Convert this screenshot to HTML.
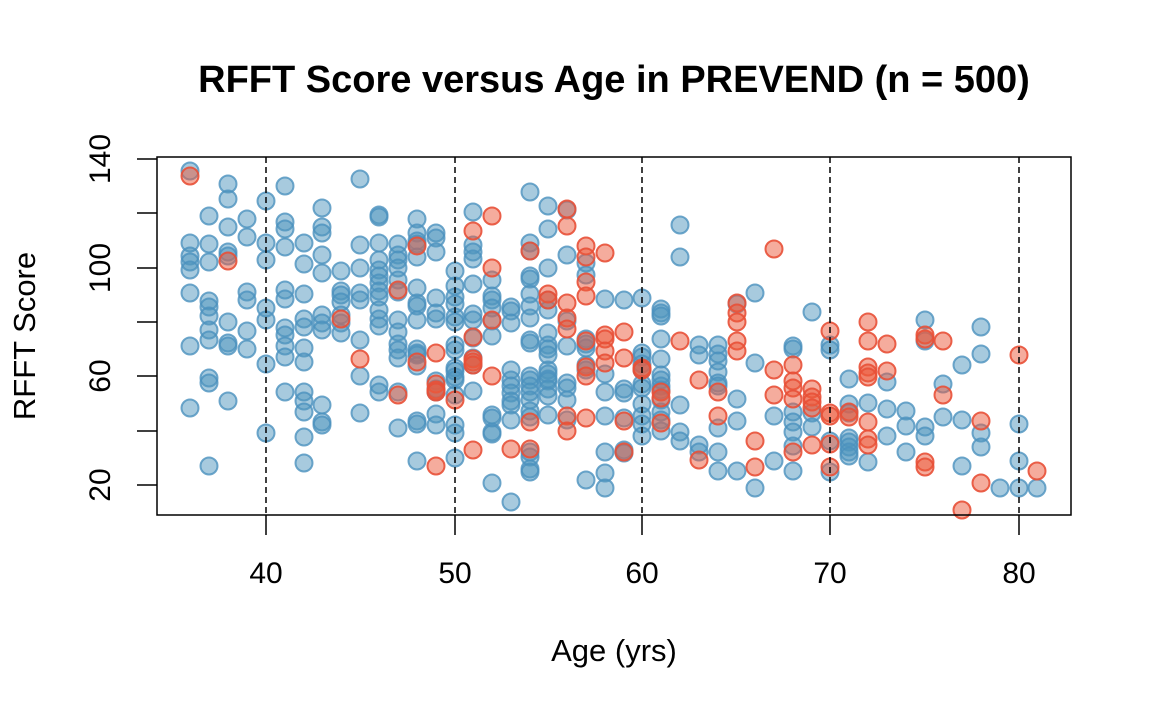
<!DOCTYPE html>
<html><head><meta charset="utf-8"><style>
html,body{margin:0;padding:0;background:#fff;}
svg{display:block;font-family:"Liberation Sans",sans-serif;}
</style></head><body>
<svg id="s" width="1152" height="711" viewBox="0 0 1152 711" xmlns="http://www.w3.org/2000/svg">
<rect width="1152" height="711" fill="#fff"/>
<text x="614" y="92" text-anchor="middle" font-size="38" font-weight="bold">RFFT Score versus Age in PREVEND (n = 500)</text>
<text x="614" y="661" text-anchor="middle" font-size="31">Age (yrs)</text>
<text transform="translate(35,336) rotate(-90)" text-anchor="middle" font-size="31">RFFT Score</text>
<g id="pts"></g>
<g stroke="#000" stroke-width="1.5" stroke-dasharray="6,4">
<line x1="266" y1="157" x2="266" y2="515"/><line x1="455" y1="157" x2="455" y2="515"/>
<line x1="642" y1="157" x2="642" y2="515"/><line x1="830" y1="157" x2="830" y2="515"/>
<line x1="1019" y1="157" x2="1019" y2="515"/>
</g>
<rect x="157" y="157" width="914" height="358" fill="none" stroke="#000" stroke-width="1.5"/>
<g stroke="#000" stroke-width="1.5">
<line x1="266" y1="515" x2="266" y2="535"/><line x1="455" y1="515" x2="455" y2="535"/>
<line x1="642" y1="515" x2="642" y2="535"/><line x1="830" y1="515" x2="830" y2="535"/>
<line x1="1019" y1="515" x2="1019" y2="535"/>
<line x1="137" y1="159" x2="157" y2="159"/><line x1="137" y1="213" x2="157" y2="213"/>
<line x1="137" y1="268" x2="157" y2="268"/><line x1="137" y1="322" x2="157" y2="322"/>
<line x1="137" y1="376" x2="157" y2="376"/><line x1="137" y1="431" x2="157" y2="431"/>
<line x1="137" y1="485" x2="157" y2="485"/>
</g>
<g font-size="30" text-anchor="middle">
<text x="266" y="583">40</text><text x="455" y="583">50</text><text x="642" y="583">60</text>
<text x="830" y="583">70</text><text x="1019" y="583">80</text>
<text transform="translate(110,159) rotate(-90)">140</text>
<text transform="translate(110,268) rotate(-90)">100</text>
<text transform="translate(110,376) rotate(-90)">60</text>
<text transform="translate(110,485) rotate(-90)">20</text>
</g>
</svg>
<script>
var B={190:[171,243,256,262,270,293,346,408],209:[216,244,262,301,307,316,330,340,378,383,466],228:[184,199,227,252,256,322,343,346,401],247:[219,237,292,300,331,349],266:[201,243,260,308,320,364,433],285:[186,222,229,247,290,299,328,335,346,357,392],304:[243,264,294,319,327,348,362,392,401,412,437,463],322:[208,227,233,255,273,315,323,330,405,422,425],341:[271,291,295,302,315,323,333],360:[179,245,268,293,300,340,376,413],379:[215,217,243,260,270,276,283,291,297,310,319,326,385,392],398:[244,255,260,268,280,292,320,332,344,350,358,392,428],417:[219,233,241,244,257,288,303,306,320,349,353,355,366,421,424,461],436:[233,238,252,298,313,319,381,389,392,414,425],455:[271,286,297,304,317,322,345,350,368,371,377,380,395,425,433,458],473:[212,245,252,259,284,314,320,338,358,365,391],492:[280,296,300,308,321,336,415,418,432,434,483],511:[307,311,323,370,380,386,393,401,405,420,502],530:[192,243,251,276,279,294,306,318,340,343,376,380,386,392,400,411,417,452,457,469,472],548:[206,229,268,300,310,333,345,349,355,370,374,379,381,389,396,415],567:[210,255,321,346,383,388,400,420],586:[263,275,339,344,348,365,370,480],605:[299,374,392,416,452,473,488],624:[300,389,393,418,450,453],642:[298,353,357,364,370,384,388,404,416,424,436],661:[309,313,316,339,359,375,380,386,390,400,412,420,431],680:[225,257,405,432,441],699:[345,355,445,452],718:[345,354,361,372,383,386,428,452,471],737:[304,399,421,471],755:[293,363,488],774:[416,461],793:[346,349,412,422,432,446,471],812:[312,413,427],830:[345,350,441,472],849:[379,404,413,438,442,447,452,456],868:[403,462],887:[382,409,436],906:[411,426,452],925:[320,341,427,436],943:[384,417],962:[365,420,466],981:[327,354,433,447],1000:[488],1019:[424,461,488],1037:[488]};
var R={190:[176],228:[261],341:[319],360:[359],398:[290,395],417:[246,362],436:[353,384,390,392,466],455:[400],473:[231,337,359,362,365,450],492:[216,268,320,376],511:[449],530:[251,422,449],548:[294,300],567:[209,226,303,318,329,416,431],586:[246,257,282,296,341,367,376,418],605:[253,335,339,351,363],624:[332,358,421,452],642:[368,370],661:[392,398,423],680:[341],699:[380,460],718:[392,416],737:[303,313,322,341,351],755:[441,467],774:[249,370,395],793:[365,381,388,399,452],812:[389,397,402,408,445],830:[331,413,416,444,467],849:[412,417],868:[322,341,367,373,377,422,439,445],887:[344,371],925:[335,339,462,467],943:[341,395],962:[510],981:[421,483],1019:[355],1037:[471]};
var h='';
function add(d,f,s){for(var x in d)d[x].forEach(function(y){h+='<circle cx="'+x+'" cy="'+y+'" r="8.5" fill="'+f+'" stroke="'+s+'" stroke-width="2"/>';});}
add(B,'rgba(80,150,190,0.5)','rgba(75,145,190,0.8)');add(R,'rgba(236,90,60,0.5)','rgba(232,80,55,0.9)');
document.getElementById('pts').innerHTML=h;
</script>
</body></html>
